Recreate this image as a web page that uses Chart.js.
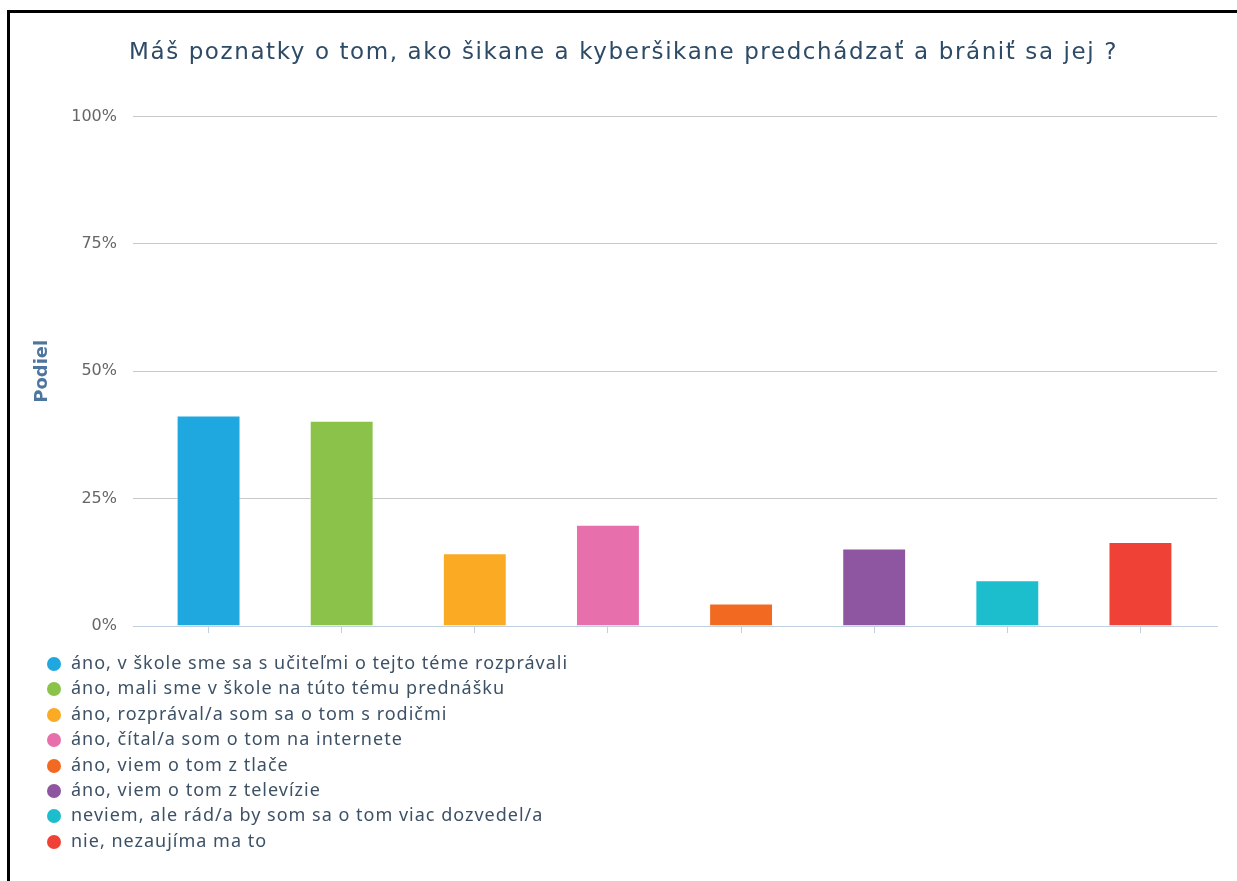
<!DOCTYPE html>
<html>
<head>
<meta charset="utf-8">
<script src="https://cdn.jsdelivr.net/npm/chart.js@4.4.1/dist/chart.umd.min.js"></script>
<style>
  html, body { margin: 0; padding: 0; background: #fff; overflow: hidden; }
  #frame {
    position: absolute; left: 7px; top: 10px; width: 1240px; height: 880px;
    border-left: 3px solid #000; border-top: 3px solid #000;
  }
  #wrap { position: absolute; left: 0; top: 0; width: 1227px; height: 640px; }
  #legend {
    position: absolute; left: 37px; top: 637px; margin: 0; padding: 0; list-style: none;
    font-family: "Noto Sans", sans-serif; font-size: 18px; letter-spacing: 1px; color: #3d5166;
  }
  #legend li { height: 25.4px; line-height: 25.4px; white-space: nowrap; }
  #legend .dot {
    display: inline-block; width: 14px; height: 14px; border-radius: 50%;
    margin-right: 10px; vertical-align: -2px;
  }
</style>
</head>
<body>
<div id="frame">
  <div id="wrap"><canvas id="barChart"></canvas></div>
  <ul id="legend"></ul>
</div>
<script>
const categories = [
  "áno, v škole sme sa s učiteľmi o tejto téme rozprávali",
  "áno, mali sme v škole na túto tému prednášku",
  "áno, rozprával/a som sa o tom s rodičmi",
  "áno, čítal/a som o tom na internete",
  "áno, viem o tom z tlače",
  "áno, viem o tom z televízie",
  "neviem, ale rád/a by som sa o tom viac dozvedel/a",
  "nie, nezaujíma ma to"
];
const shares = [41.3, 40.3, 14.3, 19.9, 4.4, 15.2, 9.0, 16.5];
const yTicks = [0, 25, 50, 75, 100];
const colors = ["#1fa8e0", "#8bc34a", "#fbaa24", "#e76fab", "#f26922", "#8e56a1", "#1cbdcd", "#ef4136"];

// leave a small gap between the plot edge and the first/last category
const xInset = {
  id: 'xInset',
  afterLayout(chart) {
    const x = chart.scales.x;
    x._startPixel += 9;
    x._endPixel -= 10;
    x._length -= 19;
  }
};

// the title in the original is set a bit wider than plain DejaVu
const titleSpacing = {
  id: 'titleSpacing',
  afterInit(chart) {
    const t = chart.titleBlock;
    const draw = t.draw.bind(t);
    t.draw = function () {
      chart.ctx.save();
      chart.ctx.letterSpacing = '1.6px';
      draw();
      chart.ctx.restore();
    };
  }
};

const legend = document.getElementById("legend");
categories.forEach((c, i) => {
  const li = document.createElement("li");
  li.innerHTML = '<span class="dot" style="background:' + colors[i] + '"></span>' + c;
  legend.appendChild(li);
});

new Chart(document.getElementById("barChart"), {
  type: 'bar',
  data: {
    labels: categories,
    datasets: [{
      data: shares,
      backgroundColor: colors,
      borderColor: 'rgba(255,255,255,0.6)',
      borderWidth: 1,
      categoryPercentage: 1,
      barPercentage: 0.48
    }]
  },
  plugins: [xInset, titleSpacing],
  options: {
    responsive: true,
    maintainAspectRatio: false,
    animation: false,
    layout: { padding: { left: 20, right: 20, top: 0, bottom: 20 } },
    plugins: {
      legend: { display: false },
      tooltip: { enabled: false },
      title: {
        display: true,
        text: "Máš poznatky o tom, ako šikane a kyberšikane predchádzať a brániť sa jej ?",
        color: '#2d4a66',
        font: { family: 'DejaVu Sans', size: 23, weight: 'normal' },
        padding: { top: 26, bottom: 50 }
      }
    },
    scales: {
      x: {
        ticks: { display: false },
        grid: { drawOnChartArea: false, offset: false, tickLength: 7, color: '#c0d0e0' },
        border: { color: '#c0d0e0', width: 1 }
      },
      y: {
        min: 0,
        max: 100,
        afterFit(scale) { scale.width = 103; },
        afterBuildTicks(scale) { scale.ticks = yTicks.map(v => ({ value: v })); },
        ticks: {
          padding: 16,
          color: '#666',
          font: { family: 'DejaVu Sans', size: 16 },
          callback: v => v + '%'
        },
        grid: { color: '#c8c8c8', drawTicks: false },
        border: { display: false },
        title: {
          display: true,
          text: 'Podiel',
          color: '#4d759e',
          font: { family: 'DejaVu Sans', size: 18, weight: 'bold' },
          padding: { top: 2, bottom: 0 }
        }
      }
    }
  }
});
</script>
</body>
</html>
